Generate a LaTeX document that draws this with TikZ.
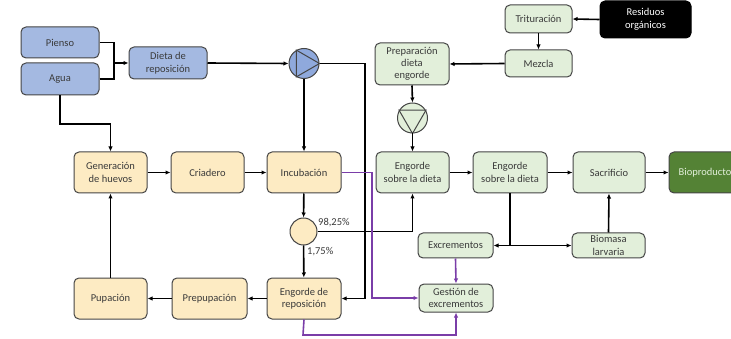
\documentclass[tikz,border=0pt]{standalone}
\usepackage{fontspec}
\setmainfont{Carlito}
\usetikzlibrary{arrows.meta}
\definecolor{bluef}{HTML}{A4B9E1}
\definecolor{pumpb}{HTML}{8FA9DC}
\definecolor{beige}{HTML}{FDEBC3}
\definecolor{lgreen}{HTML}{E2EFDA}
\definecolor{dgreen}{HTML}{548235}
\definecolor{bord}{HTML}{454545}
\definecolor{txt}{HTML}{3A3A3A}
\definecolor{purp}{HTML}{7A3DA8}
\begin{document}
\begin{tikzpicture}[x=1pt,y=-1pt,
  box/.style={draw=bord, rounded corners=5pt, line width=1pt, align=center,
    font=\fontsize{10.5}{12.5}\selectfont, text=txt, inner sep=1pt},
  bluebox/.style={box, fill=bluef},
  beigebox/.style={box, fill=beige, minimum width=73pt, minimum height=41pt},
  greenbox/.style={box, fill=lgreen},
  pump/.style={circle, draw=bord, line width=1pt, minimum size=30pt, inner sep=0pt},
  arr/.style={-{Latex[length=5pt,width=4.5pt]}, line width=1.6pt, black},
  ln/.style={line width=1.6pt, black},
  parr/.style={-{Latex[length=5pt,width=4.5pt]}, line width=1.6pt, purp},
  pln/.style={line width=1.6pt, purp},
  pct/.style={font=\fontsize{10.5}{12.5}\selectfont, text=txt, inner sep=0pt, anchor=west}
]
\useasboundingbox (0,0) rectangle (731,339);
\fill[white] (0,0) rectangle (731,339);

% blue nodes
\node[bluebox, minimum width=78pt, minimum height=31pt] (pienso) at (60,42.5) {Pienso};
\node[bluebox, minimum width=78pt, minimum height=32pt] (agua) at (60,79) {Agua};
\node[bluebox, minimum width=78pt, minimum height=32pt] (dieta) at (168,63) {Dieta de\\reposición};
\node[pump, fill=pumpb] (p1) at (304,63.5) {};
\draw[bord, line width=1pt] (p1.120) -- (p1.240) -- (p1.0) -- cycle;

% beige nodes
\node[beigebox] (gen) at (110.5,172.5) {Generación\\de huevos};
\node[beigebox] (cria) at (207.5,172.5) {Criadero};
\node[beigebox, minimum width=74pt] (incub) at (304,172.5) {Incubación};
\node[circle, draw=bord, line width=1pt, fill=beige, minimum size=27pt, inner sep=0pt] (split) at (303.5,231.5) {};
\node[beigebox, minimum width=74pt] (engrep) at (304,298.5) {Engorde de\\reposición};
\node[beigebox, minimum width=75pt] (prepup) at (209.5,298.5) {Prepupación};
\node[beigebox] (pup) at (110.5,298.5) {Pupación};

% right side nodes
\node[greenbox, minimum width=67pt, minimum height=28pt] (trit) at (538.5,19) {Trituración};
\node[box, fill=black, draw=black, text=white, minimum width=91pt, minimum height=37pt] (resid) at (645.5,19.5) {Residuos\\orgánicos};
\node[greenbox, minimum width=67pt, minimum height=27pt] (mezcla) at (538.5,63.5) {Mezcla};
\node[greenbox, minimum width=74pt, minimum height=42pt, font=\fontsize{10.5}{12}\selectfont] (prep) at (412,64) {Preparación\\dieta\\engorde};
\node[pump, fill=lgreen] (p2) at (412.5,118) {};
\draw[bord, line width=1pt] (p2.150) -- (p2.30) -- (p2.270) -- cycle;

\node[greenbox, minimum width=73pt, minimum height=41pt] (eng1) at (412.5,172.5) {Engorde\\sobre la dieta};
\node[greenbox, minimum width=74pt, minimum height=41pt] (eng2) at (510,172.5) {Engorde\\sobre la dieta};
\node[greenbox, minimum width=72pt, minimum height=41pt] (sacr) at (609,172.5) {Sacrificio};
\node[box, fill=dgreen, draw=bord, text=lgreen, minimum width=72pt, minimum height=41pt] (bio) at (705,172.5) {Bioproducto};
\node[greenbox, minimum width=75pt, minimum height=25pt] (excr) at (455.5,245.5) {Excrementos};
\node[greenbox, minimum width=73pt, minimum height=25pt] (biom) at (608.5,245.5) {Biomasa\\larvaria};
\node[greenbox, minimum width=74pt, minimum height=28pt] (gest) at (456,298) {Gestión de\\excrementos};

% labels
\node[pct] (l98) at (318,223) {98,25\%};
\node[pct] (l175) at (307,252) {1,75\%};

% coordinates
\coordinate (j1) at (114,63);
\coordinate (k1) at (365,63.5);
\coordinate (a1) at (60,124);
\coordinate (c1) at (372,172.5);
\coordinate (d1) at (303,335);
\coordinate (s2) at (510,245.5);

% black connectors
\draw[ln] (pienso.east) -| (j1);
\draw[ln] (agua.east) -| (j1);
\draw[arr] (j1) -- (dieta.west);
\draw[arr] (dieta.east) -- (p1.west);
\draw[arr] (p1.east) -- (k1) |- (engrep.east);
\draw[arr] (p1.south) -- (incub.north);
\draw[arr] (agua.south) -- (a1) -| (gen.north);
\draw[arr] (gen) -- (cria);
\draw[arr] (cria) -- (incub);
\draw[arr] (incub) -- (split);
\draw[arr] (split) -- (engrep);
\draw[arr] (engrep) -- (prepup);
\draw[arr] (prepup) -- (pup);
\draw[arr] (pup) -- (gen);
\draw[arr] (split.east) -| (eng1.south);

\draw[arr] (resid.west) -- (trit.east);
\draw[arr] (trit.south) -- (mezcla.north);
\draw[arr] (mezcla.west) -- (prep.east);
\draw[arr] (prep.south) -- (p2.north);
\draw[arr] (p2.south) -- (eng1.north);
\draw[arr] (eng1) -- (eng2);
\draw[arr] (eng2) -- (sacr);
\draw[arr] (sacr) -- (bio);
\draw[ln] (eng2.south) -- (s2);
\draw[arr] (s2) -- (excr.east);
\draw[arr] (s2) -- (biom.west);
\draw[arr] (biom.north) -- (sacr.south);

% purple connectors
\draw[parr] (incub.east) -- (c1) |- (gest.west);
\draw[parr] (engrep.south) -- (d1) -| (gest.south);
\draw[parr] (excr.south) -- (gest.north);
\end{tikzpicture}
\end{document}
